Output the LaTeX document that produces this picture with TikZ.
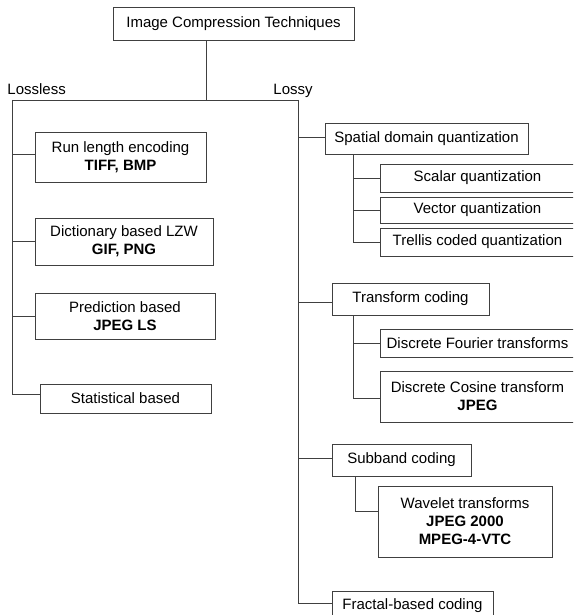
\documentclass[tikz,border=0pt]{standalone}
\usepackage{fontspec}
\setmainfont{Liberation Sans}
\begin{document}
\begin{tikzpicture}[x=1pt,y=-1pt,
  line width=0.9pt,
  every node/.style={font=\fontsize{15}{18}\selectfont},
  box/.style={draw=black!75, line width=0.9pt, inner sep=0pt, align=center},
  link/.style={draw=black!75, line width=0.9pt},
  lbl/.style={inner sep=0pt, anchor=base west}]
\useasboundingbox (0,0) rectangle (573,615);
\clip (0,0) rectangle (573,615);

% root
\node[box, minimum width=241pt, minimum height=33pt] (root) at (233.5,23.5) {Image Compression Techniques};

% lossless branch
\node[box, minimum width=171pt, minimum height=50pt] (run) at (120.5,157) {Run length encoding\\\textbf{TIFF, BMP}};
\node[box, minimum width=178pt, minimum height=47pt] (dict) at (124,241.5) {Dictionary based LZW\\\textbf{GIF, PNG}};
\node[box, minimum width=180pt, minimum height=46pt] (pred) at (125,316) {Prediction based\\\textbf{JPEG LS}};
\node[box, minimum width=171pt, minimum height=29pt] (stat) at (125.5,398.5) {Statistical based};

% lossy branch
\node[box, minimum width=203pt, minimum height=31pt] (spatial) at (426.5,138.5) {Spatial domain quantization};
\node[box, minimum width=195pt, minimum height=28pt] (scalar) at (477.5,178) {Scalar quantization};
\node[box, minimum width=195pt, minimum height=26pt] (vector) at (477.5,210) {Vector quantization};
\node[box, minimum width=195pt, minimum height=28pt] (trellis) at (477.5,242) {Trellis coded quantization};

\node[box, minimum width=157pt, minimum height=32pt] (transform) at (410.5,299) {Transform coding};
\node[box, minimum width=195pt, minimum height=28pt] (dft) at (477.5,343) {Discrete Fourier transforms};
\node[box, minimum width=195pt, minimum height=51pt] (dct) at (477.5,396.5) {Discrete Cosine transform\\\textbf{JPEG}};

\node[box, minimum width=139pt, minimum height=32pt] (subband) at (401.5,460) {Subband coding};
\node[box, minimum width=174pt, minimum height=71pt] (wavelet) at (465,521.5) {Wavelet transforms\\\textbf{JPEG 2000}\\\textbf{MPEG-4-VTC}};

\node[box, minimum width=161pt, minimum height=30pt] (fractal) at (412.5,606) {Fractal-based coding};

% branch labels
\node[lbl] (lossless) at (7,95) {Lossless};
\node[lbl] (lossy) at (273,95) {Lossy};

% trunk positions
\coordinate (hub) at (206,100);
\coordinate (lt) at (12,100);
\coordinate (rt) at (298,100);
\coordinate (s1) at (353,0);
\coordinate (s2) at (353,0);
\coordinate (s3) at (355,0);

% main split
\draw[link] (hub |- root.south) -- (hub);
\draw[link] (lt) -- (rt);

% lossless trunk
\draw[link] (lt) |- ([yshift=4.5pt]stat.west);
\draw[link] ([yshift=3pt]run.west) -- ([yshift=3pt]run.west -| lt);
\draw[link] (dict.west) -- (dict.west -| lt);
\draw[link] (pred.west) -- (pred.west -| lt);

% lossy trunk
\draw[link] (rt) |- ([yshift=3pt]fractal.west);
\draw[link] ([yshift=1.5pt]spatial.west) -- ([yshift=1.5pt]spatial.west -| rt);
\draw[link] ([yshift=-3pt]transform.west) -- ([yshift=-3pt]transform.west -| rt);
\draw[link] ([yshift=2pt]subband.west) -- ([yshift=2pt]subband.west -| rt);

% spatial sub-branches
\draw[link] (spatial.south -| s1) |- (trellis.west);
\draw[link] (scalar.west) -- (scalar.west -| s1);
\draw[link] (vector.west) -- (vector.west -| s1);

% transform sub-branches
\draw[link] (transform.south -| s2) |- ([yshift=-1.5pt]dct.west);
\draw[link] (dft.west) -- (dft.west -| s2);

% subband sub-branch
\draw[link] (subband.south -| s3) |- ([yshift=10.5pt]wavelet.west);
\end{tikzpicture}
\end{document}
